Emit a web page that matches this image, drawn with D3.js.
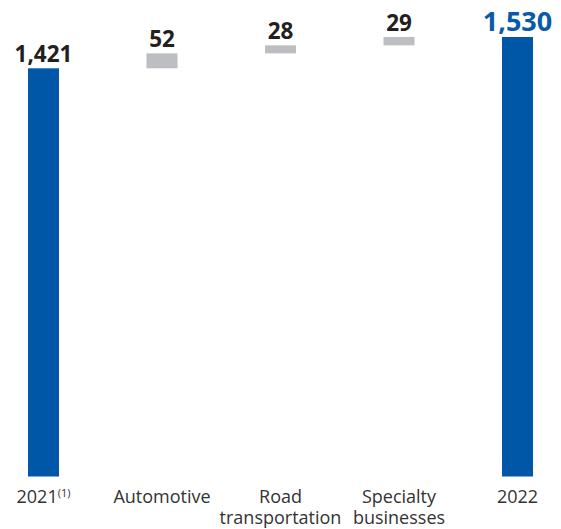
<!DOCTYPE html>
<html>
<head>
<meta charset="utf-8">
<script src="https://cdn.jsdelivr.net/npm/d3@7"></script>
<style>
  body { margin: 0; background: #fff; }
  svg { display: block; font-family: "Open Sans", sans-serif; }
</style>
</head>
<body>
<div id="chart"></div>
<script>
// Waterfall data
const categories = ["2021", "Automotive", "Road transportation", "Specialty businesses", "2022"];
const labelLines = [["2021"], ["Automotive"], ["Road", "transportation"], ["Specialty", "businesses"], ["2022"]];
const values = [1421, 52, 28, 29, 1530];
const kinds = ["total", "delta", "delta", "delta", "total"];

const width = 561, height = 529;

// build start/end for each step
let running = 0;
const data = categories.map((c, i) => {
  let start, end;
  if (kinds[i] === "total") { start = 0; end = values[i]; running = values[i]; }
  else { start = running; end = running + values[i]; running = end; }
  return { cat: c, lines: labelLines[i], value: values[i], kind: kinds[i], start, end, last: i === categories.length - 1 };
});

const svg = d3.select("#chart").append("svg")
  .attr("width", width)
  .attr("height", height);

const x = d3.scaleBand()
  .domain(categories)
  .range([28, 533])
  .paddingInner(0.7384)
  .paddingOuter(0);

const y = d3.scaleLinear()
  .domain([0, 1530])
  .range([476.5, 37]);

const blue = "#0057a8", grey = "#bdbec1";

svg.selectAll("rect.bar")
  .data(data)
  .enter().append("rect")
  .attr("class", "bar")
  .attr("x", d => x(d.cat))
  .attr("width", x.bandwidth())
  .attr("y", d => y(d.end))
  .attr("height", d => y(d.start) - y(d.end))
  .attr("fill", d => d.kind === "total" ? blue : grey);

const fmt = d3.format(",");

// value labels (final total is larger and blue)
svg.selectAll("text.val")
  .data(data)
  .enter().append("text")
  .attr("class", "val")
  .attr("x", d => x(d.cat) + x.bandwidth() / 2)
  .attr("y", d => y(d.end) - 6)
  .attr("text-anchor", "middle")
  .attr("font-size", d => d.last ? 27 : 22.5)
  .attr("font-weight", "bold")
  .attr("fill", d => d.last ? "#0a5aa8" : "#231f20")
  .text(d => fmt(d.value));

// category labels
const cat = svg.selectAll("text.cat")
  .data(data)
  .enter().append("text")
  .attr("class", "cat")
  .attr("x", d => x(d.cat) + x.bandwidth() / 2)
  .attr("y", 503)
  .attr("text-anchor", "middle")
  .attr("font-size", 18)
  .attr("fill", "#333");

cat.each(function(d, i) {
  const t = d3.select(this);
  d.lines.forEach((ln, j) => {
    t.append("tspan")
      .attr("x", x(d.cat) + x.bandwidth() / 2)
      .attr("dy", j === 0 ? 0 : 20.5)
      .text(ln);
  });
  if (i === 0) {
    t.select("tspan").append("tspan")
      .attr("font-size", 11)
      .attr("dy", -6)
      .text("(1)");
  }
});
</script>
</body>
</html>
